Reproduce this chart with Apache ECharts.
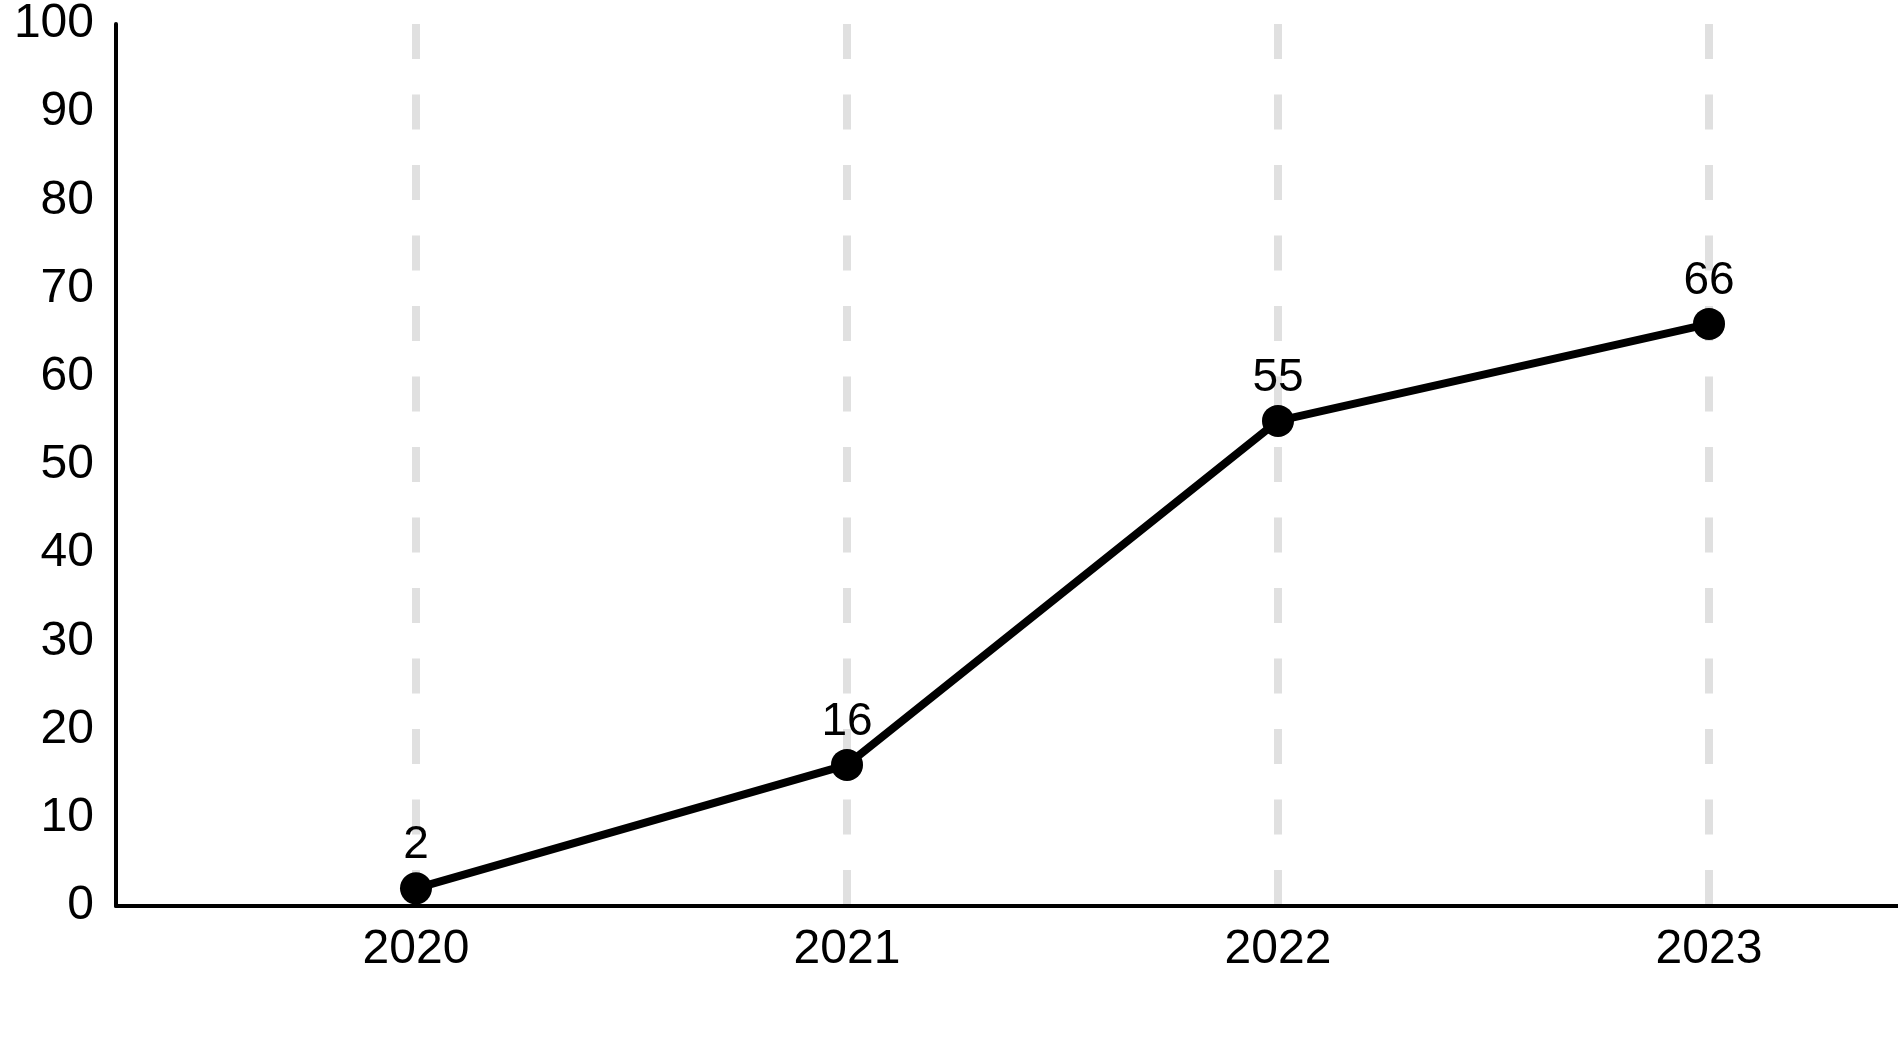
<!DOCTYPE html>
<html>
<head>
<meta charset="utf-8">
<script src="https://cdn.jsdelivr.net/npm/echarts@6/dist/echarts.min.js"></script>
<style>
html,body{margin:0;padding:0;background:#fff;}
#chart{width:1898px;height:1050px;}
</style>
</head>
<body>
<div id="chart"></div>
<script>
const categories = ['2020', '2021', '2022', '2023'];
const values = [2, 16, 55, 66];
const yMin = 0, yMax = 100, yStep = 10;

const FONT = 'Liberation Sans, Arial, sans-serif';
const chart = echarts.init(document.getElementById('chart'));
chart.setOption({
  backgroundColor: '#ffffff',
  animation: false,
  grid: [
    { left: 416, width: 1293, top: 24, height: 882 },
    { left: 116, width: 1782, top: 24, height: 882 }
  ],
  xAxis: [
    {
      type: 'category', gridIndex: 0, data: categories, boundaryGap: false,
      axisLine: { show: false }, axisTick: { show: false },
      axisLabel: { fontSize: 48, color: '#000', fontFamily: FONT, margin: 20 },
      splitLine: { show: true, lineStyle: { color: '#e0e0e0', width: 8, type: [35, 35.5] } }
    },
    {
      type: 'value', gridIndex: 1, min: 0, max: 1,
      axisLine: { show: true, onZero: false, lineStyle: { color: '#000', width: 4 } },
      axisTick: { show: false }, axisLabel: { show: false }, splitLine: { show: false }
    }
  ],
  yAxis: [
    { type: 'value', gridIndex: 0, min: yMin, max: yMax, interval: yStep, show: false, splitLine: { show: false } },
    {
      type: 'value', gridIndex: 1, min: yMin, max: yMax, interval: yStep,
      axisLine: { show: true, lineStyle: { color: '#000', width: 4 } },
      axisTick: { show: false }, splitLine: { show: false },
      axisLabel: { fontSize: 48, color: '#000', fontFamily: FONT, margin: 22 }
    }
  ],
  series: [{
    type: 'line', xAxisIndex: 0, yAxisIndex: 0, data: values, clip: false,
    symbol: 'circle', symbolSize: 32,
    itemStyle: { color: '#000' },
    lineStyle: { color: '#000', width: 8 },
    label: { show: true, position: 'top', distance: 4, fontSize: 46, color: '#000', fontFamily: FONT }
  }]
});
</script>
</body>
</html>
